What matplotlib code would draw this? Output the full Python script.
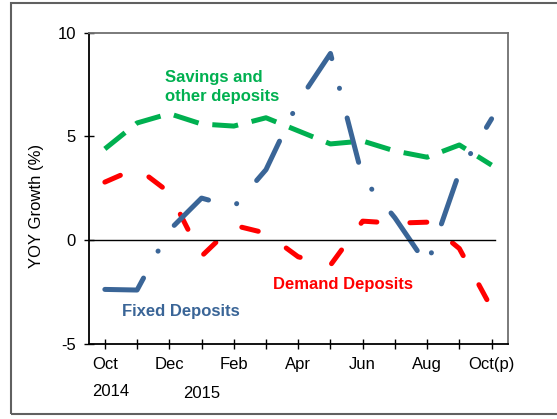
import matplotlib
matplotlib.use('Agg')
import matplotlib.pyplot as plt
from matplotlib.patches import Rectangle

plt.rcParams['font.family'] = ['Liberation Sans', 'DejaVu Sans']
plt.rcParams['lines.scale_dashes'] = False
plt.rcParams['axes.unicode_minus'] = False

months = ['Oct', 'Nov', 'Dec', 'Jan', 'Feb', 'Mar', 'Apr', 'May', 'Jun', 'Jul', 'Aug', 'Sep', 'Oct(p)']
fixed = [-2.37, -2.4, 0.48, 2.03, 1.6, 3.4, 6.67, 9.0, 3.0, 1.08, -1.2, 3.28, 5.85]
savings = [4.4, 5.65, 6.1, 5.6, 5.5, 5.9, 5.27, 4.64, 4.78, 4.3, 4.0, 4.59, 3.62]
demand = [2.8, 3.48, 2.3, -0.77, 0.72, 0.34, -0.8, -1.2, 0.92, 0.82, 0.87, -0.4, -3.28]

blue = '#3A6597'
green = '#00B050'
red = '#FF0000'

fig = plt.figure(figsize=(5.57, 4.19), dpi=100)
ax = fig.add_axes([0.1593, 0.179, 0.7522, 0.743])

x = list(range(len(months)))

ax.plot(x, savings, color=green, lw=3.6, dashes=(18.7, 10.0), dash_capstyle='butt')
ax.plot(x, demand, color=red, lw=3.6, dashes=(12.2, 23.8), dash_capstyle='round')
ax.plot(x, fixed, color=blue, lw=3.6, dashes=(33, 22, 0.1, 22), dash_capstyle='round',
        solid_joinstyle='round')

ax.axhline(0, xmin=0, xmax=12.6 / 13, color='black', lw=1)

ax.set_xlim(-0.5, 12.5)
ax.set_ylim(-5, 10)
ax.set_yticks([-5, 0, 5, 10])
ax.set_xticks(x)
ax.set_xticklabels([m if i % 2 == 0 else '' for i, m in enumerate(months)])
ax.tick_params(axis='x', direction='inout', length=6.5, width=1, labelsize=12, pad=6)
ax.tick_params(axis='y', direction='inout', length=6.5, width=1, labelsize=12, pad=6)

ax.spines['left'].set_color('black')
ax.spines['bottom'].set_color('black')
ax.spines['left'].set_linewidth(1.3)
ax.spines['bottom'].set_linewidth(1.3)
ax.spines['top'].set_color('#707070')
ax.spines['right'].set_color('#707070')
ax.spines['top'].set_linewidth(1.3)
ax.spines['right'].set_linewidth(1.3)

fig.text(36.7 / 557, 1 - 206 / 419, 'YOY Growth (%)', rotation=90, fontsize=12,
         ha='center', va='center')
fig.text(110.5 / 557, 1 - 391 / 419, '2014', fontsize=12, ha='center', va='center')
fig.text(202 / 557, 1 - 393.3 / 419, '2015', fontsize=12, ha='center', va='center')

fig.text(165.3 / 557, 1 - 87 / 419, 'Savings and\nother deposits', color=green,
         fontsize=12, fontweight='bold', ha='left', va='center', linespacing=1.3)
fig.text(121.7 / 557, 1 - 311.7 / 419, 'Fixed Deposits', color=blue,
         fontsize=12, fontweight='bold', ha='left', va='center')
fig.text(273 / 557, 1 - 284.3 / 419, 'Demand Deposits', color=red,
         fontsize=12, fontweight='bold', ha='left', va='center')

# outer frame
fig.patches.append(Rectangle((10.7 / 557, 1 - 414 / 419), 1.0, (414 - 2.7) / 419,
                             transform=fig.transFigure, fill=False,
                             edgecolor='#606060', lw=1.5))

fig.savefig('out.png', dpi=100)
